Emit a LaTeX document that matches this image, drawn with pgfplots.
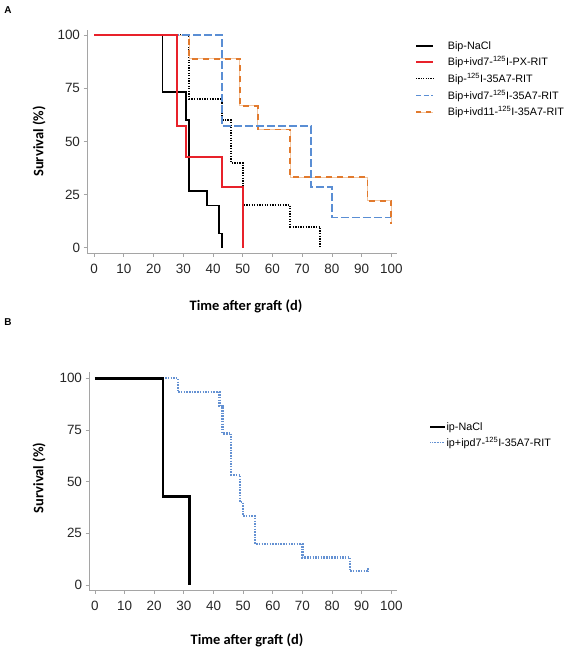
\documentclass[border=0pt]{standalone}
\usepackage{fontspec}
\setmainfont{Liberation Sans}
\newfontfamily\carlito{Carlito}
\usepackage{pgfplots}
\pgfplotsset{compat=1.18}
\definecolor{myred}{RGB}{232,33,42}
\definecolor{myblue}{RGB}{90,142,212}
\definecolor{myorange}{RGB}{226,122,45}
\definecolor{mylightorange}{RGB}{242,200,165}
\definecolor{myblueb}{RGB}{100,145,210}
\definecolor{axisgray}{RGB}{165,165,165}
\pgfplotsset{
  shortlegend/.style={legend image code/.code={\draw[##1] (0cm,0cm) -- (0.5cm,0cm);}},
  myaxis/.style={
    scale only axis,
    axis x line*=bottom, axis y line*=left,
    axis line style={axisgray, line width=0.9bp},
    major tick style={axisgray, line width=0.8bp},
    tick align=outside,
    major tick length=3.5bp,
    xtick={0,10,...,100}, ytick={0,25,50,75,100},
    tick label style={font=\fontsize{13.5}{14}\selectfont, text=black!85},
    xticklabel style={yshift=-4bp},
    /pgf/number format/assume math mode=true,
    xlabel={\carlito\bfseries Time after graft (d)},
    ylabel={\carlito\bfseries Survival (\%)},
    label style={font=\fontsize{14.5}{15}\selectfont},
    legend cell align=left,
    legend style={draw=none, fill=none, font=\fontsize{10.8}{12}\selectfont,
      anchor=north west, row sep=4bp, inner sep=0pt,
      nodes={inner sep=1bp}},
    const plot,
  }
}
\begin{document}
\begin{tikzpicture}
\useasboundingbox (0,0) rectangle (586bp,-651bp);
\node[font=\fontsize{10}{10}\selectfont\bfseries] at (8bp,-10bp) {A};
\node[font=\fontsize{10}{10}\selectfont\bfseries] at (8bp,-322bp) {B};
% ---------------- Panel A
\begin{axis}[myaxis,
  at={(87bp,-253bp)}, anchor=south west,
  width=310bp, height=223bp,
  xmin=-2.4, xmax=101.9, ymin=-2.4, ymax=102.4,
  xlabel style={at={(axis description cs:0.5,0)}, anchor=center, xshift=4bp, yshift=-53bp},
  ylabel style={at={(axis description cs:0,0.5)}, anchor=center, yshift=48bp},
  legend style={at={(rel axis cs:1.058,0.955)},
    /tikz/every odd column/.append style={column sep=13bp}},
]
\addlegendimage{black, line width=1.5bp}
\addlegendentry{Bip-NaCl}
\addlegendimage{myred, line width=1.7bp}
\addlegendentry{Bip+ivd7-\textsuperscript{125}I-PX-RIT}
\addlegendimage{black, line width=1.6bp, dash pattern=on 1.2bp off 1.2bp}
\addlegendentry{Bip-\textsuperscript{125}I-35A7-RIT}
\addlegendimage{myblue, line width=1.6bp, dash pattern=on 5bp off 2.5bp}
\addlegendentry{Bip+ivd7-\textsuperscript{125}I-35A7-RIT}
\addlegendimage{mylightorange, line width=1bp, postaction={draw=myorange, line width=1.6bp, dash pattern=on 5bp off 5bp}}
\addlegendentry{Bip+ivd11-\textsuperscript{125}I-35A7-RIT}
% dotted black
\addplot[forget plot, black, line width=1.8bp, dash pattern=on 1.3bp off 1.3bp] coordinates {
 (0,100) (32,70) (43,60) (46,40) (50,20) (66,10) (76,0)};
% orange
\addplot[forget plot, mylightorange, line width=1bp, postaction={draw=myorange, line width=1.8bp, dash pattern=on 6bp off 5bp}] coordinates {
 (0,100) (32,88.9) (49,66.7) (55,55.6) (66,33.3) (92,22.2) (100,11.1)};
% blue dashed
\addplot[forget plot, myblue, line width=1.8bp, dash pattern=on 8bp off 3bp] coordinates {
 (0,100) (43,57.1) (73,28.6) (80,14.3) (100,14.3)};
% black solid
\addplot[forget plot, black, line width=1.6bp] coordinates {
 (0,100) (23,73.3) (31,60) (32,26.7) (38,20) (42,6.7) (43,0)};
% red
\addplot[forget plot, myred, line width=1.8bp] coordinates {
 (0,100) (28,57.1) (31,42.9) (43,28.6) (50,0)};
\end{axis}
% ---------------- Panel B
\begin{axis}[myaxis,
  at={(89bp,-590bp)}, anchor=south west,
  width=308bp, height=218bp,
  xmin=-2.0, xmax=101.9, ymin=-2.4, ymax=103,
  xlabel style={at={(axis description cs:0.5,0)}, anchor=center, xshift=4bp, yshift=-50bp},
  ylabel style={at={(axis description cs:0,0.5)}, anchor=center, yshift=50bp, xshift=3bp},
  legend style={at={(rel axis cs:1.104,0.775)}},
]
\addlegendimage{shortlegend, black, line width=2.2bp}
\addlegendentry{ip-NaCl}
\addlegendimage{shortlegend, myblueb, line width=1.1bp, dash pattern=on 0.8bp off 0.8bp}
\addlegendentry{ip+ipd7-\textsuperscript{125}I-35A7-RIT}
\addplot[forget plot, myblueb, line width=2.3bp, dash pattern=on 1.5bp off 1.2bp] coordinates {
 (0,100) (28,93.3) (42,86.7) (43,73.3) (46,53.3) (49,40) (50,33.3) (54,20) (70,13.3) (86,6.7) (92,6.7) (92,8.5)};
\addplot[forget plot, black, line width=2.6bp] coordinates {
 (0,100) (23,42.9) (32,0)};
\end{axis}
\end{tikzpicture}
\end{document}
